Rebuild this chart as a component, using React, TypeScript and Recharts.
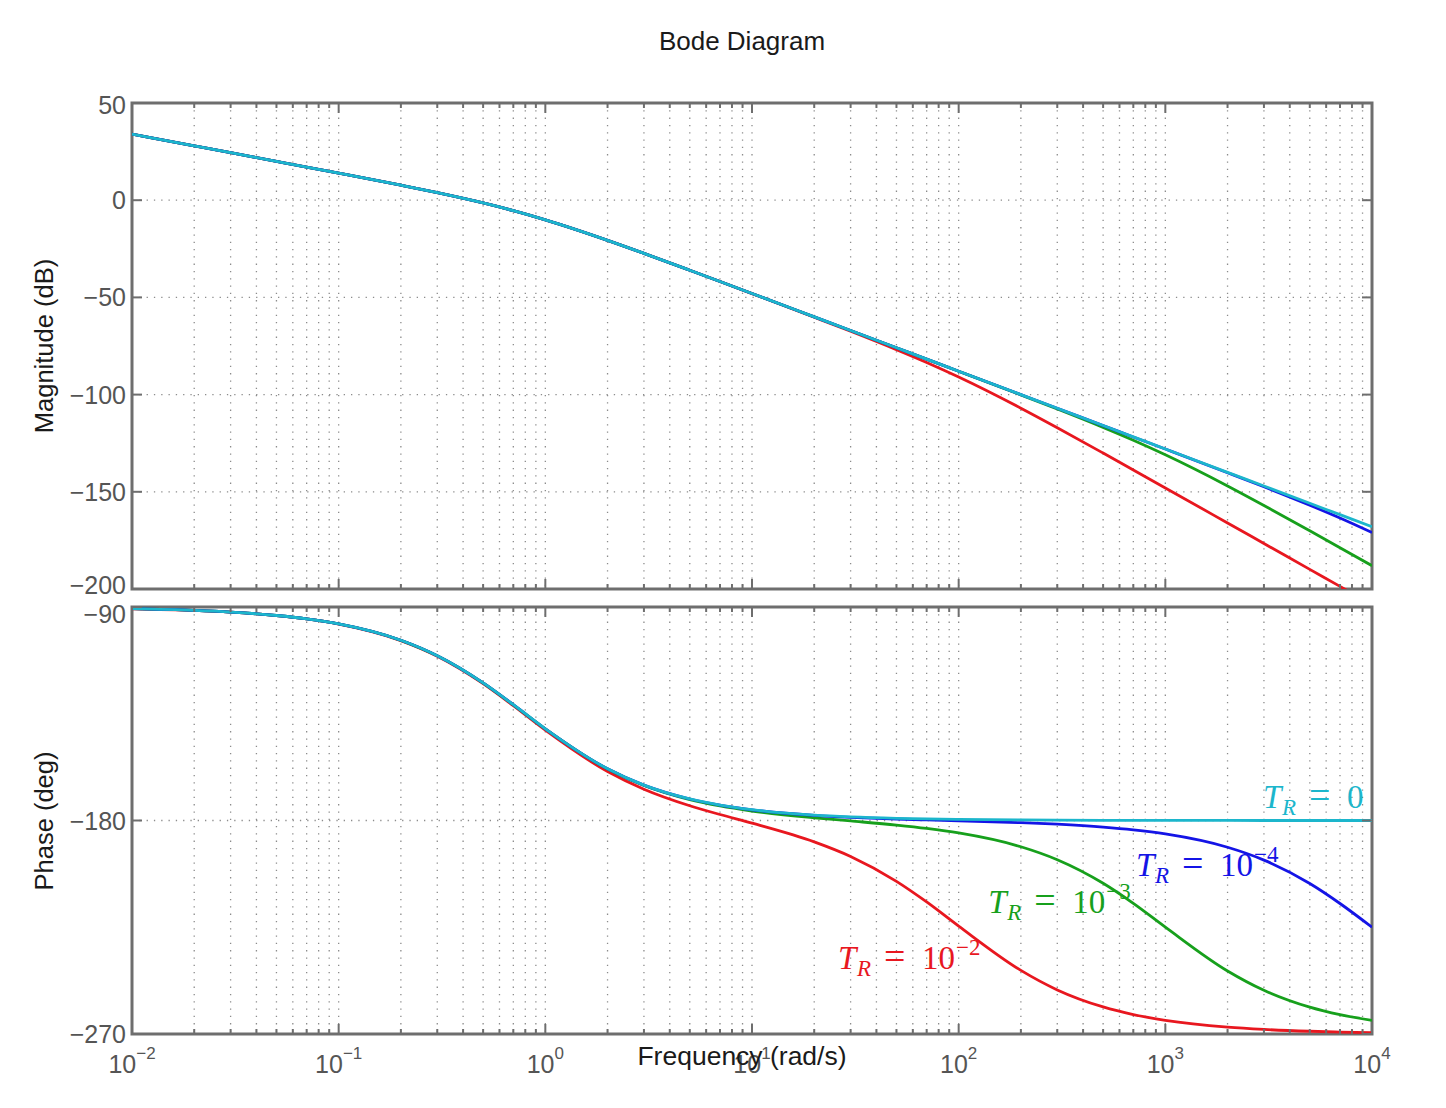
import React from "react";
import {
  LineChart,
  Line,
  XAxis,
  YAxis,
  CartesianGrid,
  ReferenceArea,
  ReferenceDot,
} from "recharts";

// frequency samples (rad/s)
const freq = [
  0.01, 0.02, 0.03, 0.05, 0.07, 0.1, 0.2, 0.3, 0.5, 0.7, 1, 2, 3, 5, 7, 10, 20,
  30, 50, 70, 100, 200, 300, 500, 700, 1000, 2000, 3000, 5000, 7000, 10000,
];

// magnitude (dB)
const magTr0 = [
  33.98, 27.96, 24.43, 19.98, 17.05, 13.91, 7.7, 3.87, -1.43, -5.39, -10.11,
  -20.64, -27.34, -36.03, -41.82, -47.99, -60.01, -67.04, -75.92, -81.76,
  -87.96, -100.0, -107.04, -115.92, -121.76, -127.96, -140.0, -147.04, -155.92,
  -161.76, -167.96,
];
const magTr4 = [
  33.98, 27.96, 24.43, 19.98, 17.05, 13.91, 7.7, 3.87, -1.43, -5.39, -10.11,
  -20.64, -27.34, -36.03, -41.82, -47.99, -60.01, -67.04, -75.92, -81.76,
  -87.96, -100.0, -107.04, -115.93, -121.78, -128.0, -140.17, -147.41, -156.89,
  -163.49, -170.97,
];
const magTr3 = [
  33.98, 27.96, 24.43, 19.98, 17.05, 13.91, 7.7, 3.87, -1.43, -5.39, -10.11,
  -20.64, -27.34, -36.03, -41.82, -47.99, -60.01, -67.04, -75.93, -81.78, -88.0,
  -100.17, -107.41, -116.89, -123.49, -130.97, -146.99, -157.04, -170.07,
  -178.75, -188.0,
];
const magTr2 = [
  33.98, 27.96, 24.43, 19.98, 17.05, 13.91, 7.7, 3.87, -1.43, -5.39, -10.11,
  -20.65, -27.34, -36.04, -41.84, -48.03, -60.18, -67.41, -76.89, -83.49,
  -90.97, -106.99, -117.04, -130.07, -138.76, -148.0, -166.03, -176.59, -189.9,
  -198.66, -207.96,
];

// phase (deg)
const phaseTr0 = [
  -90.72, -91.43, -92.15, -93.58, -95.0, -97.13, -104.04, -110.56, -122.01,
  -131.19, -141.34, -158.2, -165.07, -170.91, -173.48, -175.43, -177.71,
  -178.47, -179.08, -179.35, -179.54, -179.77, -179.85, -179.91, -179.94,
  -179.95, -179.98, -179.99, -179.99, -179.99, -180.0,
];
const phaseTr4 = [
  -90.72, -91.43, -92.15, -93.58, -95.0, -97.13, -104.04, -110.56, -122.01,
  -131.19, -141.35, -158.21, -165.09, -170.94, -173.52, -175.49, -177.82,
  -178.64, -179.37, -179.75, -180.11, -180.92, -181.57, -182.77, -183.94,
  -185.66, -191.29, -196.69, -206.56, -214.98, -225.0,
];
const phaseTr3 = [
  -90.72, -91.43, -92.15, -93.58, -95.0, -97.14, -104.05, -110.58, -122.04,
  -131.23, -141.4, -158.31, -165.24, -171.2, -173.88, -176.0, -178.86, -180.19,
  -181.94, -183.35, -185.25, -191.08, -196.55, -206.48, -214.93, -224.95,
  -243.41, -251.56, -258.68, -261.86, -264.29,
];
const phaseTr2 = [
  -90.73, -91.44, -92.17, -93.61, -95.04, -97.19, -104.15, -110.73, -122.3,
  -131.59, -141.91, -159.35, -166.79, -173.77, -177.48, -181.14, -189.02,
  -195.17, -205.65, -214.34, -224.54, -243.2, -251.42, -258.6, -261.81, -264.24,
  -267.12, -268.08, -268.85, -269.18, -269.43,
];

const decades = [0.01, 0.1, 1, 10, 100, 1000, 10000];
const decadeExponents = ["−2", "−1", "0", "1", "2", "3", "4"];
const mantissas = [1, 2, 3, 4, 5, 6, 7, 8, 9];
const magTicks = [-200, -150, -100, -50, 0, 50];
const phaseTicks = [-270, -180, -90];

const trNames = ["0", "−4", "−3", "−2"];

const xTicks = decades
  .slice(0, -1)
  .flatMap((d) => mantissas.map((m) => m * d))
  .concat([10000]);

const magData = freq.map((f, i) => ({
  f,
  tr0: magTr0[i],
  tr4: magTr4[i],
  tr3: magTr3[i],
  tr2: magTr2[i],
}));

const phaseData = freq.map((f, i) => ({
  f,
  tr0: phaseTr0[i],
  tr4: phaseTr4[i],
  tr3: phaseTr3[i],
  tr2: phaseTr2[i],
}));

const RED = "#e8171f";
const GREEN = "#17a01c";
const BLUE = "#1414e6";
const CYAN = "#1cb6cc";
const FRAME = "#6e6e6e";
const TICK_TEXT = "#555555";
const SANS = "'Liberation Sans', Arial, Helvetica, sans-serif";
const SERIF = "'Liberation Serif', 'Times New Roman', serif";

const PLOT_W = 1240;
const MAG_H = 486;
const PHASE_H = 427;

function FreqTick(props: any) {
  const { x, y, payload, plotHeight, showLabel } = props;
  const v = payload.value;
  const di = decades.indexOf(v);
  const major = di >= 0;
  const len = major ? 10 : 5;
  return (
    <g>
      <line x1={x} y1={y} x2={x} y2={y - len} stroke={FRAME} strokeWidth={2} />
      <line
        x1={x}
        y1={y - plotHeight}
        x2={x}
        y2={y - plotHeight + len}
        stroke={FRAME}
        strokeWidth={2}
      />
      {showLabel && major && (
        <text
          x={x}
          y={y + 39}
          textAnchor="middle"
          fill={TICK_TEXT}
          fontSize={25}
          fontFamily={SANS}
        >
          <tspan>10</tspan>
          <tspan fontSize={17} dy={-14}>
            {decadeExponents[di]}
          </tspan>
        </text>
      )}
    </g>
  );
}

function LevelTick(props: any) {
  const { x, y, payload, edgeShift } = props;
  const label = String(payload.value).replace("-", "−");
  const shift = edgeShift && edgeShift[payload.value] ? edgeShift[payload.value] : 0;
  return (
    <g>
      <line x1={x} y1={y} x2={x + 10} y2={y} stroke={FRAME} strokeWidth={2} />
      <line
        x1={x + PLOT_W}
        y1={y}
        x2={x + PLOT_W - 10}
        y2={y}
        stroke={FRAME}
        strokeWidth={2}
      />
      <text
        x={x - 6}
        y={y + shift}
        dy="0.36em"
        textAnchor="end"
        fill={TICK_TEXT}
        fontSize={25}
        fontFamily={SANS}
      >
        {label}
      </text>
    </g>
  );
}

function TrLabel(props: any) {
  const { viewBox, color, power } = props;
  const x = viewBox.x + (viewBox.width || 0) / 2;
  const y = viewBox.y + (viewBox.height || 0) / 2;
  const isZero = power === "0";
  return (
    <text x={x} y={y} fill={color} fontFamily={SERIF} fontSize={33}>
      <tspan fontStyle="italic">T</tspan>
      <tspan x={x + 19} dy={7} fontSize={23} fontStyle="italic">
        R
      </tspan>
      <tspan x={x + 46} y={y} fontSize={38}>
        =
      </tspan>
      <tspan x={x + 84} y={y}>
        {isZero ? "0" : "10"}
      </tspan>
      {!isZero && (
        <tspan x={x + 118} y={y - 14} fontSize={23}>
          {power}
        </tspan>
      )}
    </text>
  );
}

// where each T_R label sits in the phase panel
const labelFreq = [2968, 721, 139, 26.1];
const labelPhase = [-174.9, -203.2, -218.9, -242.5];
const labelColors = [CYAN, BLUE, GREEN, RED];

export default function App() {
  const lineProps = {
    type: "monotone" as const,
    dot: false,
    strokeWidth: 2.8,
    isAnimationActive: false,
    activeDot: false as const,
  };
  const svgStyle = { overflow: "visible" as const };
  return (
    <div
      style={{
        position: "absolute",
        left: 0,
        top: 0,
        width: 1446,
        height: 1108,
        background: "#fff",
      }}
    >
      <div style={{ position: "absolute", left: 0, top: 0 }}>
        <LineChart
          width={1446}
          height={600}
          data={magData}
          style={svgStyle}
          margin={{ top: 103, right: 74, bottom: 10, left: 72 }}
        >
          <CartesianGrid
            stroke="#8c8c8c"
            strokeWidth={1.3}
            strokeDasharray="1.3 6"
          />
          <XAxis
            dataKey="f"
            type="number"
            scale="log"
            domain={[0.01, 10000]}
            ticks={xTicks}
            interval={0}
            allowDataOverflow
            height={1}
            tickSize={0}
            tickMargin={0}
            axisLine={false}
            tickLine={false}
            tick={<FreqTick plotHeight={MAG_H} showLabel={false} />}
          />
          <YAxis
            type="number"
            domain={[-200, 50]}
            ticks={magTicks}
            interval={0}
            allowDataOverflow
            width={60}
            tickSize={0}
            tickMargin={0}
            axisLine={false}
            tickLine={false}
            tick={<LevelTick edgeShift={{ 50: 2, "-200": -4 }} />}
          />
          <ReferenceArea
            x1={0.01}
            x2={10000}
            y1={-200}
            y2={50}
            fill="none"
            fillOpacity={0}
            stroke={FRAME}
            strokeWidth={3}
          />
          <Line dataKey="tr2" stroke={RED} {...lineProps} />
          <Line dataKey="tr3" stroke={GREEN} {...lineProps} />
          <Line dataKey="tr4" stroke={BLUE} {...lineProps} />
          <Line dataKey="tr0" stroke={CYAN} {...lineProps} />
        </LineChart>
      </div>
      <div style={{ position: "absolute", left: 0, top: 590 }}>
        <LineChart
          width={1446}
          height={518}
          data={phaseData}
          style={svgStyle}
          margin={{ top: 17, right: 74, bottom: 73, left: 72 }}
        >
          <CartesianGrid
            stroke="#8c8c8c"
            strokeWidth={1.3}
            strokeDasharray="1.3 6"
          />
          <XAxis
            dataKey="f"
            type="number"
            scale="log"
            domain={[0.01, 10000]}
            ticks={xTicks}
            interval={0}
            allowDataOverflow
            height={1}
            tickSize={0}
            tickMargin={0}
            axisLine={false}
            tickLine={false}
            tick={<FreqTick plotHeight={PHASE_H} showLabel={true} />}
          />
          <YAxis
            type="number"
            domain={[-270, -90]}
            ticks={phaseTicks}
            interval={0}
            allowDataOverflow
            width={60}
            tickSize={0}
            tickMargin={0}
            axisLine={false}
            tickLine={false}
            tick={<LevelTick edgeShift={{ "-90": 7 }} />}
          />
          <ReferenceArea
            x1={0.01}
            x2={10000}
            y1={-270}
            y2={-90}
            fill="none"
            fillOpacity={0}
            stroke={FRAME}
            strokeWidth={3}
          />
          <Line dataKey="tr2" stroke={RED} {...lineProps} />
          <Line dataKey="tr3" stroke={GREEN} {...lineProps} />
          <Line dataKey="tr4" stroke={BLUE} {...lineProps} />
          <Line dataKey="tr0" stroke={CYAN} {...lineProps} />
          {trNames.map((p, i) => (
            <ReferenceDot
              key={p}
              x={labelFreq[i]}
              y={labelPhase[i]}
              r={0}
              fill="none"
              stroke="none"
              label={<TrLabel color={labelColors[i]} power={p} />}
            />
          ))}
        </LineChart>
      </div>
      <svg
        width={1446}
        height={1108}
        style={{ position: "absolute", left: 0, top: 0, pointerEvents: "none" }}
      >
        <text
          x={742}
          y={50}
          textAnchor="middle"
          fontSize={26}
          fontFamily={SANS}
          fill="#1a1a1a"
        >
          Bode Diagram
        </text>
        <text
          transform="translate(53,346) rotate(-90)"
          textAnchor="middle"
          fontSize={25.5}
          fontFamily={SANS}
          fill="#1a1a1a"
        >
          Magnitude (dB)
        </text>
        <text
          transform="translate(53,821) rotate(-90)"
          textAnchor="middle"
          fontSize={25.5}
          fontFamily={SANS}
          fill="#1a1a1a"
        >
          Phase (deg)
        </text>
        <text
          x={742}
          y={1065}
          textAnchor="middle"
          fontSize={26.5}
          fontFamily={SANS}
          fill="#1a1a1a"
        >
          Frequency (rad/s)
        </text>
      </svg>
    </div>
  );
}
